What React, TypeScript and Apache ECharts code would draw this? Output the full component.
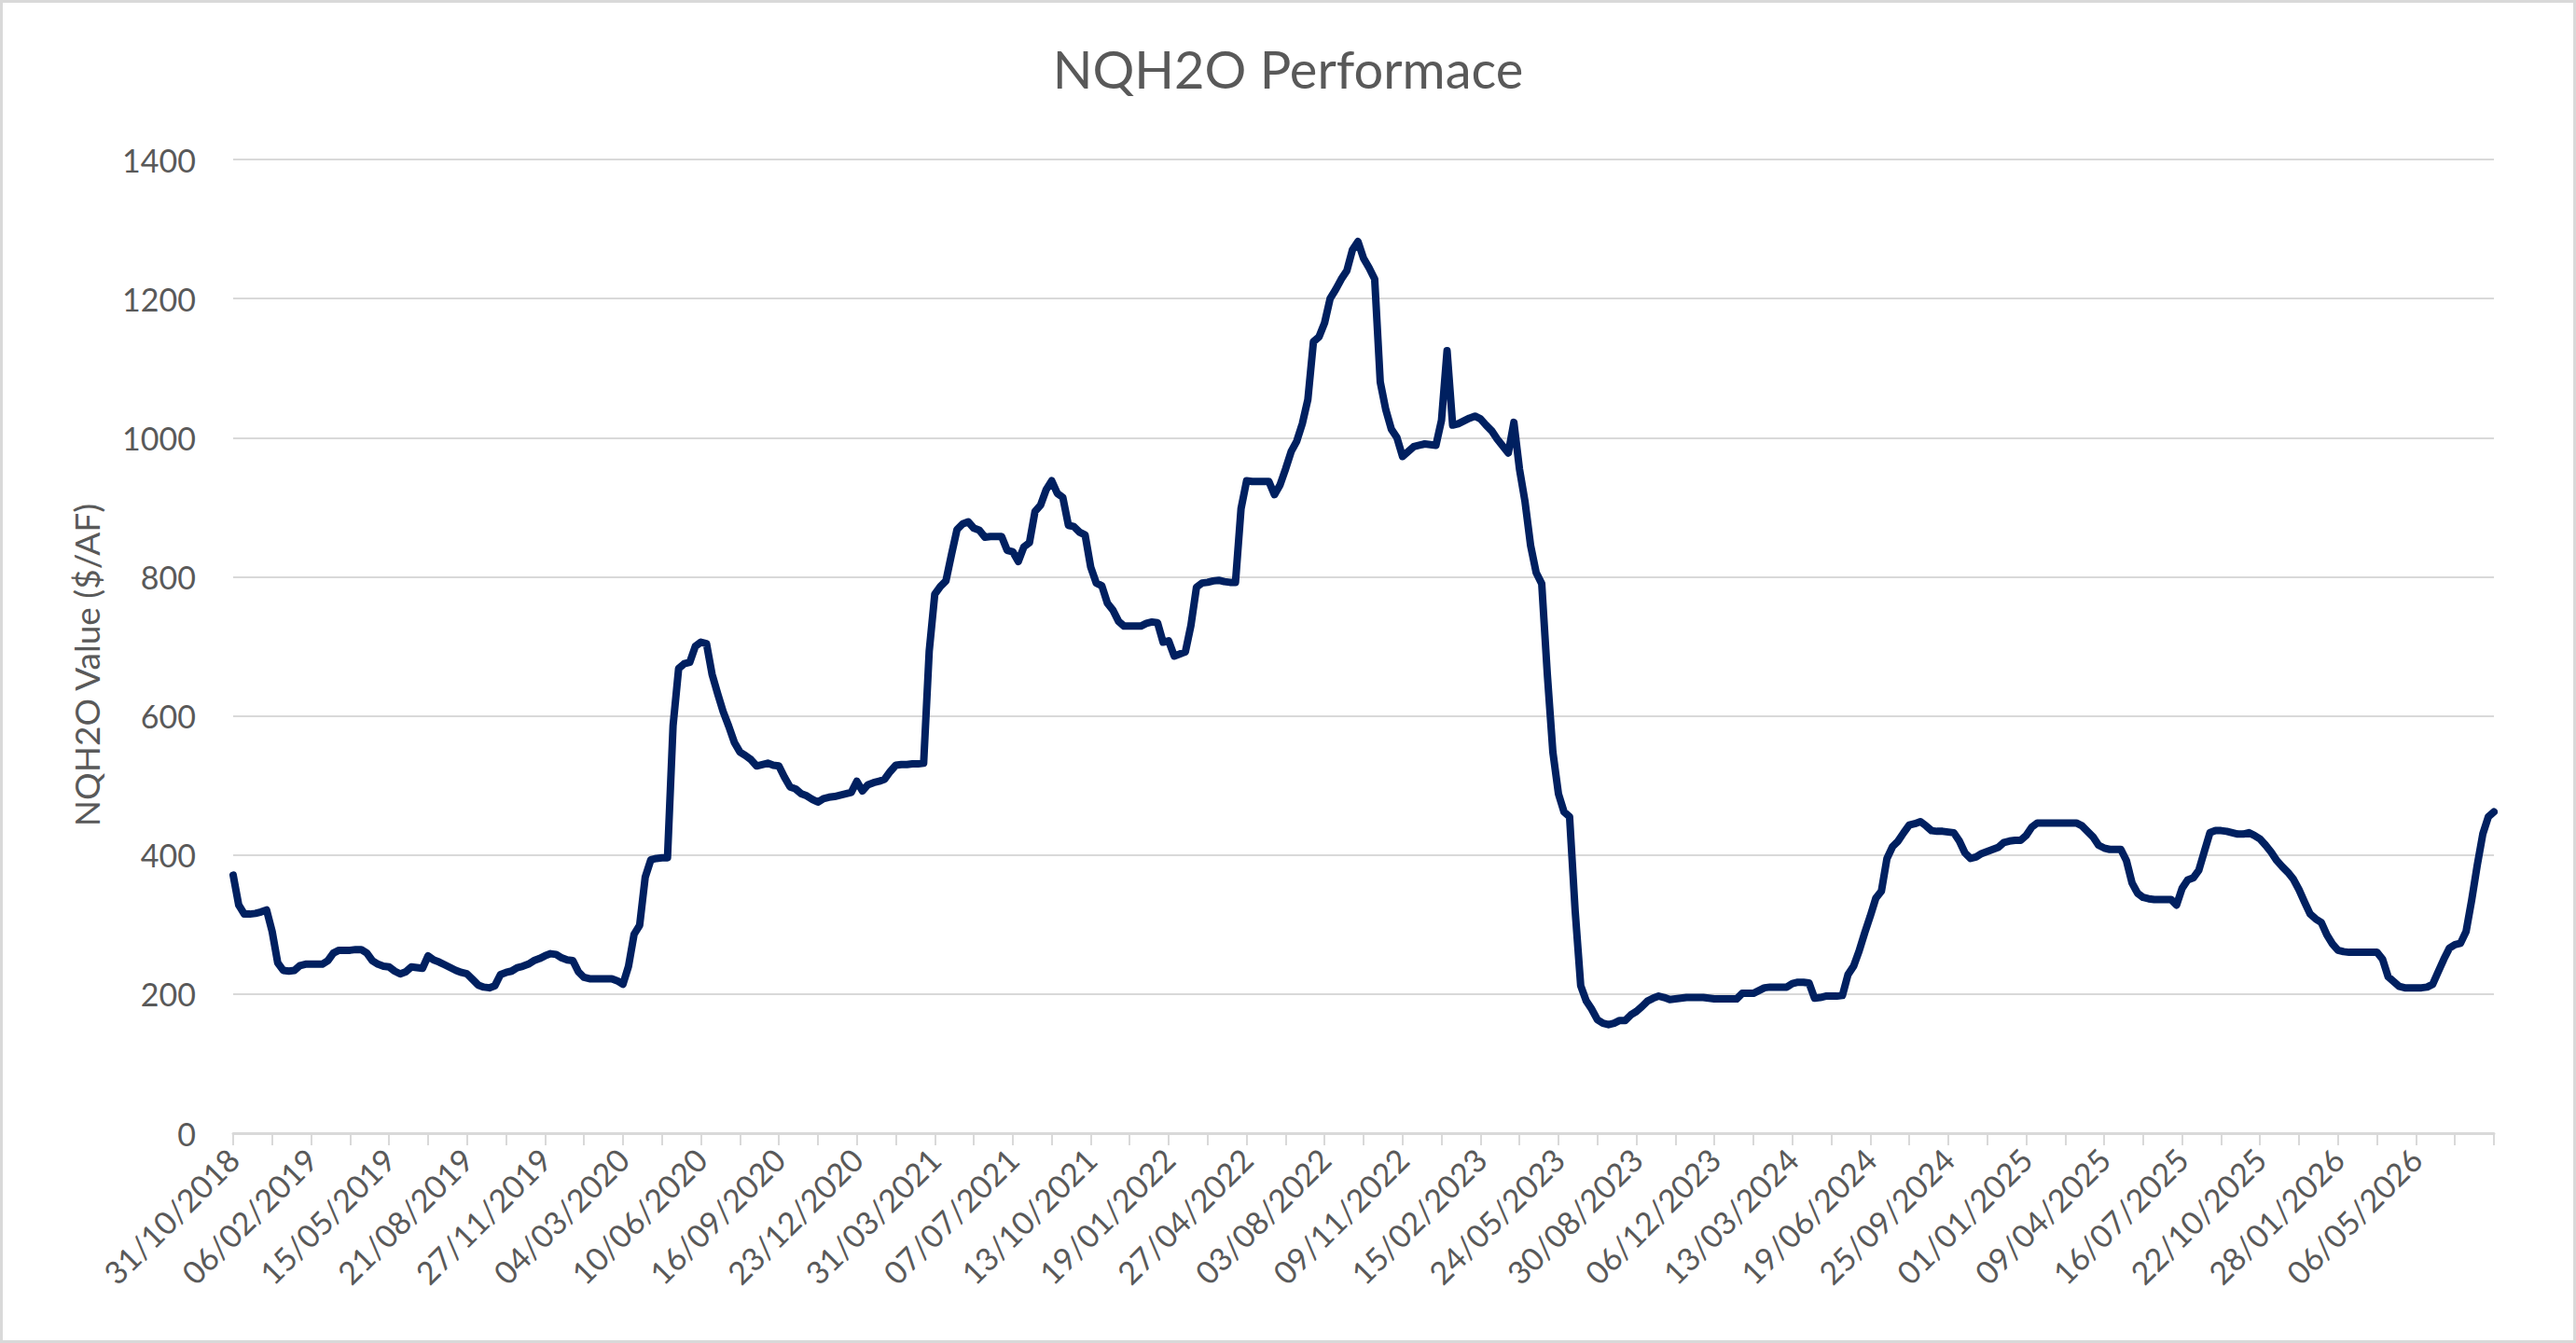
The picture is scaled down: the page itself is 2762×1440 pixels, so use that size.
import React, { useEffect, useRef } from "react";
import * as echarts from "echarts";

const chartTitle = "NQH2O Performace";
const yAxisTitle = "NQH2O Value ($/AF)";
const startDate = "2018-10-31";
const weekStepDays = 7;
const labelEveryWeeks = 14;
const tickEveryWeeks = 7;
const lastLabelledWeek = 392; // 06/05/2026

// Weekly NQH2O values ($/AF)
const values2018 = [371, 328, 315, 315, 316, 318, 321, 290, 245];
const values2019 = [
  234, 233, 234, 241, 243, 243, 243, 243, 248, 259, 263, 263, 263, 264, 264, 259, 248, 243, 240, 239,
  233, 229, 232, 239, 238, 237, 255, 249, 246, 242, 238, 234, 231, 229, 221, 213, 210, 209, 212, 228,
  231, 233, 238, 240, 243, 248, 251, 255, 258, 257, 252, 249,
];
const values2020 = [
  248, 232, 224, 222, 222, 222, 222, 222, 219, 214, 240, 286, 299, 368, 393, 395, 396, 396, 586, 668,
  675, 677, 700, 706, 704, 660, 632, 606, 585, 562, 548, 543, 537, 528, 530, 532, 529, 528, 512, 498,
  495, 488, 485, 480, 476, 481, 483, 484, 486, 488, 490, 506,
];
const values2021 = [
  492, 501, 504, 506, 509, 520, 529, 530, 530, 531, 531, 532, 693, 775, 786, 794, 832, 868, 876, 879,
  870, 867, 857, 858, 858, 858, 838, 836, 822, 843, 849, 894, 903, 925, 938, 920, 914, 874, 872, 864,
  860, 814, 791, 787, 762, 752, 736, 729, 729, 729, 729, 733,
];
const values2022 = [
  735, 734, 706, 708, 686, 689, 692, 730, 785, 791, 792, 794, 795, 793, 792, 792, 898, 938, 937, 937,
  937, 937, 918, 932, 955, 980, 995, 1020, 1055, 1138, 1145, 1165, 1200, 1213, 1228, 1240, 1270, 1282,
  1258, 1244, 1228, 1080, 1040, 1012, 1000, 973, 980, 987, 989, 991, 990, 989,
];
const values2023 = [
  1025, 1125, 1018, 1020, 1024, 1028, 1031, 1027, 1018, 1010, 998, 988, 978, 1022, 955, 908, 845, 806,
  790, 660, 548, 488, 462, 455, 320, 212, 190, 178, 163, 158, 156, 158, 162, 162, 170, 175, 182, 190,
  194, 197, 195, 192, 193, 194, 195, 195, 195, 195, 194, 193, 193, 193,
];
const values2024 = [
  193, 193, 201, 201, 201, 205, 209, 210, 210, 210, 210, 215, 217, 217, 216, 194, 195, 197, 197, 197,
  198, 228, 240, 262, 288, 312, 338, 348, 395, 412, 420, 432, 443, 445, 448, 442, 435, 434, 434, 433,
  432, 420, 403, 395, 397, 402, 405, 408, 411, 418, 420, 421, 421,
];
const values2025 = [
  428, 440, 446, 446, 446, 446, 446, 446, 446, 446, 442, 434, 426, 414, 410, 408, 408, 408, 392, 360,
  345, 339, 337, 336, 336, 336, 336, 328, 352, 364, 367, 378, 405, 432, 435, 435, 434, 432, 430, 430,
  432, 428, 423, 414, 404, 392, 383, 375, 365, 350, 332, 315,
];
const values2026 = [
  308, 303, 285, 272, 263, 261, 260, 260, 260, 260, 260, 260, 250, 225, 218, 211, 209, 209, 209, 209,
  210, 214, 232, 250, 266, 271, 273, 290, 335, 385, 430, 455, 462,
];

const yTicks = [0, 200, 400, 600, 800, 1000, 1200, 1400];

const seriesValues = [
  ...values2018,
  ...values2019,
  ...values2020,
  ...values2021,
  ...values2022,
  ...values2023,
  ...values2024,
  ...values2025,
  ...values2026,
];

function buildWeeklyDates(start: string, count: number): string[] {
  const out: string[] = [];
  const base = new Date(start + "T00:00:00Z").getTime();
  for (let i = 0; i < count; i++) {
    const d = new Date(base + i * weekStepDays * 86400000);
    const dd = String(d.getUTCDate()).padStart(2, "0");
    const mm = String(d.getUTCMonth() + 1).padStart(2, "0");
    out.push(`${dd}/${mm}/${d.getUTCFullYear()}`);
  }
  return out;
}

const categories = buildWeeklyDates(startDate, seriesValues.length);

const FONT = "Lato, 'Open Sans', sans-serif";
const GREY_TEXT = "#595959";
const GRID_GREY = "#d9d9d9";

export default function App() {
  const ref = useRef<HTMLDivElement>(null);

  useEffect(() => {
    document.body.style.margin = "0";
    document.documentElement.style.overflow = "hidden";
    if (!ref.current) return;
    const chart = echarts.init(ref.current, undefined, { renderer: "svg" });
    chart.setOption({
      animation: false,
      backgroundColor: "#ffffff",
      textStyle: { fontFamily: FONT },
      title: {
        text: chartTitle,
        left: "center",
        top: 40,
        textStyle: { fontFamily: FONT, fontSize: 56, fontWeight: "normal", color: GREY_TEXT },
      },
      grid: { left: 250, right: 88, top: 171, bottom: 225, containLabel: false },
      xAxis: {
        type: "category",
        data: categories,
        boundaryGap: false,
        axisLine: { show: true, lineStyle: { color: GRID_GREY, width: 3 } },
        axisTick: {
          show: true,
          interval: (i: number) => i % tickEveryWeeks === 0,
          length: 13,
          lineStyle: { color: GRID_GREY, width: 2 },
        },
        axisLabel: {
          interval: (i: number) => i % labelEveryWeeks === 0 && i <= lastLabelledWeek,
          rotate: 45,
          margin: 22,
          color: GREY_TEXT,
          fontFamily: FONT,
          fontSize: 34,
        },
        splitLine: { show: false },
      },
      yAxis: {
        type: "value",
        min: yTicks[0],
        max: yTicks[yTicks.length - 1],
        interval: yTicks[1] - yTicks[0],
        axisLine: { show: false },
        axisTick: { show: false },
        axisLabel: {
          margin: 40,
          color: GREY_TEXT,
          fontFamily: FONT,
          fontSize: 34,
          formatter: (v: number) => String(v),
        },
        splitLine: { show: true, lineStyle: { color: GRID_GREY, width: 2 } },
      },
      series: [
        {
          type: "line",
          data: seriesValues,
          showSymbol: false,
          symbol: "none",
          lineStyle: { color: "#002060", width: 8, cap: "round", join: "round" },
        },
      ],
      graphic: [
        {
          type: "text",
          x: 92,
          y: 713,
          rotation: Math.PI / 2,
          silent: true,
          style: {
            text: yAxisTitle,
            fontFamily: FONT,
            fontSize: 37,
            fill: GREY_TEXT,
            textAlign: "center",
            textVerticalAlign: "middle",
          },
        },
        {
          type: "rect",
          silent: true,
          z: 100,
          shape: { x: 1.5, y: 1.5, width: 2759, height: 1437 },
          style: { fill: "none", stroke: GRID_GREY, lineWidth: 3 },
        },
      ],
    });
    return () => chart.dispose();
  }, []);

  return <div ref={ref} style={{ width: "2762px", height: "1440px" }} />;
}
